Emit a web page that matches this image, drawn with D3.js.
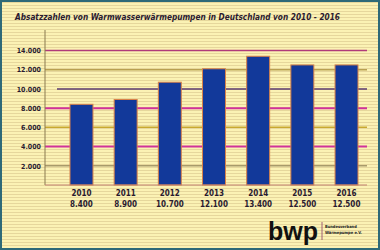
<!DOCTYPE html>
<html>
<head>
<meta charset="utf-8">
<script src="https://cdn.jsdelivr.net/npm/d3@7"></script>
<style>
  body { margin: 0; background: #fff; }
  svg text { font-family: "DejaVu Sans Condensed", "DejaVu Sans", sans-serif; }
</style>
</head>
<body>
<div id="chart"></div>
<script>
const years = ["2010", "2011", "2012", "2013", "2014", "2015", "2016"];
const sales = [8400, 8900, 10700, 12100, 13400, 12500, 12500];
const salesLabels = ["8.400", "8.900", "10.700", "12.100", "13.400", "12.500", "12.500"];
const yTicks = [2000, 4000, 6000, 8000, 10000, 12000, 14000];
const gridColors = { 2000: "#a89a6a", 4000: "#d0329a", 6000: "#c8a830", 8000: "#d0329a", 10000: "#5a3a70", 12000: "#b8a050", 14000: "#b03a7a" };

const W = 380, H = 250;
const margin = { top: 30, right: 13, bottom: 65, left: 45 };

const svg = d3.select("#chart").append("svg")
    .attr("width", W)
    .attr("height", H);

// striped background
const defs = svg.append("defs");
const pat = defs.append("pattern")
    .attr("id", "stripes")
    .attr("width", 4).attr("height", 3)
    .attr("patternUnits", "userSpaceOnUse");
pat.append("rect").attr("width", 4).attr("height", 3).attr("fill", "#fbf2b4");
pat.append("rect").attr("y", 2).attr("width", 4).attr("height", 1).attr("fill", "#e6d79c");

svg.append("rect")
    .attr("x", 1).attr("y", 1)
    .attr("width", W - 2).attr("height", H - 2)
    .attr("fill", "url(#stripes)")
    .attr("stroke", "#2e6a78")
    .attr("stroke-width", 2);

svg.append("text")
    .attr("x", 15).attr("y", 20)
    .attr("font-size", 9)
    .attr("font-weight", "bold")
    .attr("font-style", "italic")
    .attr("fill", "#2a1a30")
    .attr("textLength", 325)
    .attr("lengthAdjust", "spacingAndGlyphs")
    .text("Absatzzahlen von Warmwasserwärmepumpen in Deutschland von 2010 - 2016");

const width = W - margin.left - margin.right;
const height = H - margin.top - margin.bottom;

const g = svg.append("g")
    .attr("transform", `translate(${margin.left},${margin.top})`);

const x = d3.scaleBand()
    .domain(years)
    .range([25, 313])
    .paddingInner(0.48)
    .paddingOuter(0);

const y = d3.scaleLinear()
    .domain([0, 14000])
    .range([155, 20.5]);

// gridlines
g.selectAll(".grid")
    .data(yTicks)
    .enter().append("line")
    .attr("class", "grid")
    .attr("x1", d => d === 10000 ? 12 : 0).attr("x2", width)
    .attr("y1", d => y(d)).attr("y2", d => y(d))
    .attr("stroke", d => gridColors[d])
    .attr("stroke-width", d => (d === 4000 || d === 8000) ? 2 : 1.5);

// bars
g.selectAll(".bar")
    .data(sales)
    .enter().append("rect")
    .attr("class", "bar")
    .attr("x", (d, i) => x(years[i]))
    .attr("y", d => y(d))
    .attr("width", x.bandwidth())
    .attr("height", d => y(0) - y(d))
    .attr("fill", "#12399a")
    .attr("stroke", "#d9824a")
    .attr("stroke-width", 1);

// axes lines
g.append("line")
    .attr("x1", 0).attr("x2", 0)
    .attr("y1", 0).attr("y2", y(0))
    .attr("stroke", "#8a7a50").attr("stroke-width", 1);
g.append("line")
    .attr("x1", 0).attr("x2", width)
    .attr("y1", y(0)).attr("y2", y(0))
    .attr("stroke", "#c08070").attr("stroke-width", 1);

const yAxis = g.append("g")
    .call(d3.axisLeft(y).tickValues(yTicks).tickSize(0).tickPadding(4)
        .tickFormat(d => d3.format(",")(d).replace(",", ".")));
yAxis.select(".domain").remove();
yAxis.selectAll("text")
    .attr("font-size", 7)
    .attr("font-weight", "bold")
    .attr("fill", "#2a1a30")
    .style("font-family", "'DejaVu Sans Condensed', sans-serif");

// category labels
const xAxis = g.append("g")
    .attr("transform", `translate(0,${y(0)})`)
    .call(d3.axisBottom(x).tickSize(0).tickPadding(5));
xAxis.select(".domain").remove();
xAxis.selectAll("text")
    .attr("font-size", 8)
    .attr("font-weight", "bold")
    .attr("fill", "#2a1a30")
    .style("font-family", "'DejaVu Sans Condensed', sans-serif");

g.selectAll(".val")
    .data(salesLabels)
    .enter().append("text")
    .attr("class", "val")
    .attr("x", (d, i) => x(years[i]) + x.bandwidth() / 2)
    .attr("y", y(0) + 22)
    .attr("text-anchor", "middle")
    .attr("font-size", 8)
    .attr("font-weight", "bold")
    .attr("fill", "#2a1a30")
    .text(d => d);

// logo
svg.append("text")
    .attr("x", 268).attr("y", 240)
    .attr("font-size", 26)
    .attr("font-weight", "bold")
    .attr("fill", "#111")
    .attr("textLength", 50)
    .attr("lengthAdjust", "spacingAndGlyphs")
    .style("font-family", "'Liberation Sans', sans-serif")
    .text("bwp");
svg.append("line")
    .attr("x1", 322).attr("x2", 322)
    .attr("y1", 222).attr("y2", 240)
    .attr("stroke", "#8a3a6a").attr("stroke-width", 0.8);
svg.append("text")
    .attr("x", 325).attr("y", 228)
    .attr("font-size", 4)
    .attr("font-weight", "bold")
    .attr("fill", "#222")
    .text("Bundesverband");
svg.append("text")
    .attr("x", 325).attr("y", 234)
    .attr("font-size", 4)
    .attr("font-weight", "bold")
    .attr("fill", "#222")
    .text("Wärmepumpe e.V.");
</script>
</body>
</html>
